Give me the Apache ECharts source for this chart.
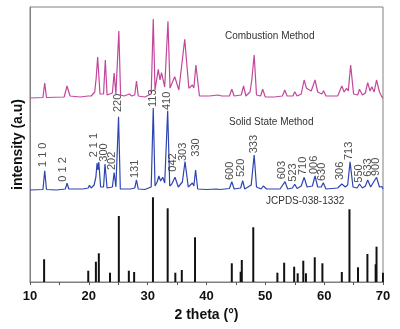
<!DOCTYPE html>
<html>
<head>
<meta charset="utf-8">
<script src="https://cdn.jsdelivr.net/npm/echarts@6/dist/echarts.min.js"></script>
<style>
html,body{margin:0;padding:0;background:#fff;}
#chart{width:400px;height:329px;}
</style>
</head>
<body>
<div id="chart"></div>
<script>
// x tick labels
var xTicks = [10, 20, 30, 40, 50, 60, 70];

// Combustion method pattern: [2theta, intensity (offset trace)]
var combustionTheta = [10.0,12.2,12.5,12.8,15.8,16.3,16.8,18.5,19.9,20.1,20.4,21.0,21.25,21.5,21.9,22.5,22.8,23.1,24.0,24.3,24.6,24.9,25.1,25.4,26.0,26.9,27.3,27.8,28.1,28.4,29.5,30.6,30.95,31.25,31.8,32.1,32.35,32.9,33.45,33.8,34.6,35.3,36.3,37.0,37.6,37.85,38.2,38.8,40.5,42.0,42.3,42.6,43.9,44.3,44.7,45.9,46.3,46.7,47.4,47.7,48.1,48.5,49.2,49.55,50.0,51.5,52.9,53.3,53.7,54.7,55.0,55.4,56.1,56.6,57.0,57.3,57.8,58.45,58.9,59.6,59.9,60.3,62.3,63.0,63.4,63.8,64.1,64.5,65.0,65.7,66.0,66.5,67.0,67.4,67.8,68.1,68.5,68.9,69.4,69.8,70.0];
var combustionValue = [184,184.5,199,184.5,185,196,186,185,186,188,186,190,204,225,188,188,222,187,189,209,188,190,251,187,186,188,186,187,201,186,185,188,263,192,212.7,202,209.3,195,260.7,194,205.3,192,242.7,193.7,197,194,217,186,186,187,188.7,186,186,192.7,186,187,196,186,190,202,227,187,186,192.7,185,185,186,192,186,186,190.3,186,188,202,193.7,195.3,191,202,190,188,191.3,186,186,196,190,193.7,191,217,188,187,192.7,187,189,199.3,191,195.3,190,202,190,185.3,184];

// Solid state method pattern: [2theta, intensity (offset trace)]
var solidTheta = [10.0,12.2,12.5,12.8,14.5,16.0,16.3,16.6,18.5,18.7,19.0,19.9,20.1,20.4,20.9,21.2,21.4,21.55,21.7,22.0,22.5,22.75,23.1,24.0,24.3,24.6,24.85,25.05,25.35,26.5,26.8,27.1,27.8,28.1,28.4,29.5,30.6,30.95,31.25,31.6,31.9,32.2,32.55,32.9,33.4,33.75,34.1,34.65,35.2,35.9,36.35,36.9,37.6,37.85,38.15,38.5,40.0,41.7,42.0,42.3,43.9,44.3,44.7,45.8,46.15,46.5,47.6,48.1,48.5,49.3,49.65,50.2,52.5,53.35,53.8,54.6,55.0,55.4,56.1,56.6,57.1,58.0,58.45,58.9,59.5,59.85,60.3,62.3,63.0,63.6,64.0,64.4,64.9,65.6,66.0,66.5,67.0,67.4,67.9,68.2,68.9,69.4,69.8,70.0];
var solidValue = [92,92.5,111.3,92.5,92,93,98.7,93,93,94.7,93,94,96.7,94,97,105,119,112,120,95,95,118,94,95,109.5,95,96,165.3,93,93,94.7,93,94,102,93,92.5,95,174,96,100,106,101,104.7,99,171.3,96,98,104.7,95,100,120.3,95,99,96,112,93,92.5,93,94,92.5,93.5,100.3,93,94,101.3,93,97,127,95,93,96,93,93,100.3,93,94,97.7,93.5,96,104.7,95,96,106,95,95,99.3,93,94,98,95,97,120.3,95,94,98,94,96,102,95,97,104.7,95,95.5,93];

// JCPDS-038-1332 reference lines: [2theta, relative intensity]
var refTheta = [12.4,19.9,21.2,21.7,23.6,25.1,26.8,27.7,30.9,33.4,34.7,35.8,38.05,44.3,45.8,46.0,47.95,52.05,53.2,54.9,55.5,56.45,56.9,58.4,59.7,63.0,64.3,65.75,67.35,68.75,68.9,70.0];
var refValue = [22.7,11.3,20.3,28.7,9.3,66,11.3,10,84.7,73.7,9.3,12,44.7,18.7,10.3,22,54.7,9.3,19.3,15.3,8.7,21.3,8.7,24.7,18.7,10,72.7,14.7,28,17.7,35.3,9.3];

// Miller index annotations on the solid state trace
var hklLabels = ['1 1 0','0 1 2','2 1 1','300','202','220','131','113','410','042','303','330','600','520','333','603','523','710','006','630','306','713','550','633','900'];
var hklTheta = [12.2,15.65,20.86,22.6,23.87,24.9,27.8,30.83,33.2,34.3,36.05,38.17,44.06,45.93,48.02,52.9,54.7,56.4,58.2,59.7,62.73,64.3,65.86,67.4,68.84];
var hklLabelY = [115,100.3,124.7,120.3,112,170,104,175,172,110.3,121,125.3,102,105,128.7,102.7,100.3,107,108,101,102,122,99.3,105.3,106];

function zip(a, b) { return a.map(function (v, i) { return [v, b[i]]; }); }

var FONT = "'Liberation Sans', Arial, sans-serif";
var chart = echarts.init(document.getElementById('chart'), null, {renderer: 'canvas'});
chart.setOption({
  animation: false,
  backgroundColor: '#ffffff',
  grid: {left: 30, right: 17, top: 7, bottom: 47, show: true, borderColor: '#808080', borderWidth: 1, backgroundColor: 'transparent'},
  xAxis: {
    type: 'value', min: xTicks[0], max: xTicks[xTicks.length - 1], interval: 10,
    name: '2 theta (°)', nameLocation: 'middle', nameGap: 26,
    nameTextStyle: {fontFamily: FONT, fontSize: 14, fontWeight: 'bold', color: '#111'},
    axisLine: {lineStyle: {color: '#808080', width: 1}},
    axisTick: {show: true, length: 3, lineStyle: {color: '#555'}},
    minorTick: {show: true, splitNumber: 2, length: 3, lineStyle: {color: '#555'}},
    splitLine: {show: false},
    axisLabel: {fontFamily: FONT, fontSize: 13, fontWeight: 'bold', color: '#111', margin: 8}
  },
  yAxis: {
    type: 'value', min: 0, max: 275,
    name: 'intensity (a.u)', nameLocation: 'middle', nameGap: 5,
    nameTextStyle: {fontFamily: FONT, fontSize: 14, fontWeight: 'bold', color: '#111'},
    axisLine: {show: true, lineStyle: {color: '#808080'}},
    axisTick: {show: false}, axisLabel: {show: false}, splitLine: {show: false}
  },
  series: [
    {
      name: 'Combustion Method', type: 'line', data: zip(combustionTheta, combustionValue),
      symbol: 'none', smooth: false, lineStyle: {color: '#c2479b', width: 1.2}, z: 3
    },
    {
      name: 'Solid State Method', type: 'line', data: zip(solidTheta, solidValue),
      symbol: 'none', smooth: false, lineStyle: {color: '#2e45b0', width: 1.2}, z: 3
    },
    {
      name: 'JCPDS-038-1332', type: 'bar', data: zip(refTheta, refValue),
      barWidth: 2, itemStyle: {color: '#111'}, z: 2
    },
    {
      name: 'hkl', type: 'scatter', symbolSize: 0,
      data: hklTheta.map(function (t, i) { return {value: [t, hklLabelY[i]], name: hklLabels[i]}; }),
      label: {
        show: true, position: 'inside', rotate: 90, align: 'left', verticalAlign: 'middle',
        formatter: function (p) { return p.name; },
        fontFamily: FONT, fontSize: 11, color: '#222'
      },
      silent: true, z: 4
    }
  ],
  graphic: [
    {type: 'text', left: 225, top: 31, style: {text: 'Combustion Method', font: "10px 'Liberation Sans', Arial", fill: '#333'}},
    {type: 'text', left: 229, top: 117, style: {text: 'Solid State Method', font: "10px 'Liberation Sans', Arial", fill: '#333'}},
    {type: 'text', left: 266, top: 196, style: {text: 'JCPDS-038-1332', font: "10px 'Liberation Sans', Arial", fill: '#333'}}
  ]
});
</script>
</body>
</html>
